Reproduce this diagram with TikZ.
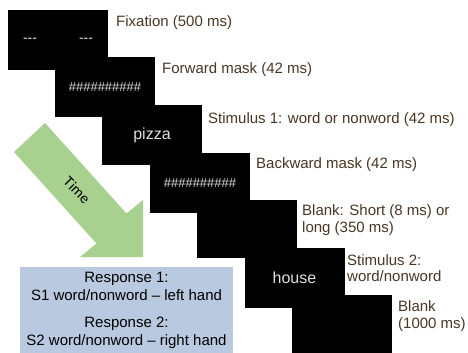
\documentclass[tikz,border=0pt]{standalone}
\usepackage{fontspec}
\setmainfont{Liberation Sans}
\newfontfamily\timefont{Carlito}
\usetikzlibrary{positioning}
\definecolor{mgreen}{rgb}{0.66, 0.82, 0.56}
\definecolor{mblue}{rgb}{0.72, 0.79, 0.88}
\definecolor{mbrown}{rgb}{0.29, 0.21, 0.14}
\definecolor{mgrey}{rgb}{0.88, 0.88, 0.88}
\tikzset{screen/.style = {fill = black, text = mgrey, minimum width = 100, minimum height = 60, inner sep = 0}}
\tikzset{lbl/.style = {anchor = west, text = mbrown, align = left, inner sep = 0, font = \fontsize{15}{16.5}\selectfont}}
\tikzset{word/.style = {font = \fontsize{16}{18}\selectfont}}
\tikzset{hash/.style = {font = \fontsize{13}{15}\selectfont}}

\begin{document}
\begin{tikzpicture}[x=1pt, y=-1pt]
    \useasboundingbox [fill = white] (0, 0) rectangle (468, 353);

    \fill [mgreen] (45, 123) -- (126.5, 213.5) -- (143, 200) -- (143, 257)
        -- (80, 257) -- (96.5, 243.5) -- (14, 152) -- cycle;
    \node [rotate = -45, font = \timefont\fontsize{15}{17}\selectfont] (time) at (77, 190) {Time};

    \node [screen, font = \fontsize{14}{16}\selectfont] (fix) at (58, 40)
        {-\kern0pt-\kern0pt-\hspace{42pt}-\kern0pt-\kern0pt-};
    \node [screen, hash] (fwd) at (105, 87) {\#\#\#\#\#\#\#\#\#\#};
    \node [screen, word] (stima) at (152, 135) {pizza};
    \node [screen, hash] (bwd) at (200, 183) {\#\#\#\#\#\#\#\#\#\#};
    \node [screen, minimum height = 58] (blanka) at (247, 229) {};
    \node [screen, word] (stimb) at (294.5, 277.5) {house};
    \node [screen] (blankb) at (342, 325) {};

    \node [lbl] (fixlbl) at (116, 23) {Fixation (500 ms)};
    \node [lbl] (fwdlbl) at (162, 70) {Forward mask (42 ms)};
    \node [lbl] (stimalbl) at (208, 120) {Stimulus 1: word or nonword (42 ms)};
    \node [lbl] (bwdlbl) at (256, 165) {Backward mask (42 ms)};
    \node [lbl] (blankalbl) at (302, 220) {Blank: Short (8 ms) or\\long (350 ms)};
    \node [lbl] (stimblbl) at (347, 268) {Stimulus 2:\\word/nonword};
    \node [lbl] (blankblbl) at (398, 316) {Blank\\(1000 ms)};

    \node [fill = mblue, minimum width = 213, minimum height = 86, inner sep = 0, align = center,
        font = \fontsize{15}{18}\selectfont] (resp) at (126.5, 310)
        {Response 1:\\S1 word/nonword -- left hand\\[9pt]Response 2:\\S2 word/nonword -- right hand};
\end{tikzpicture}
\end{document}
